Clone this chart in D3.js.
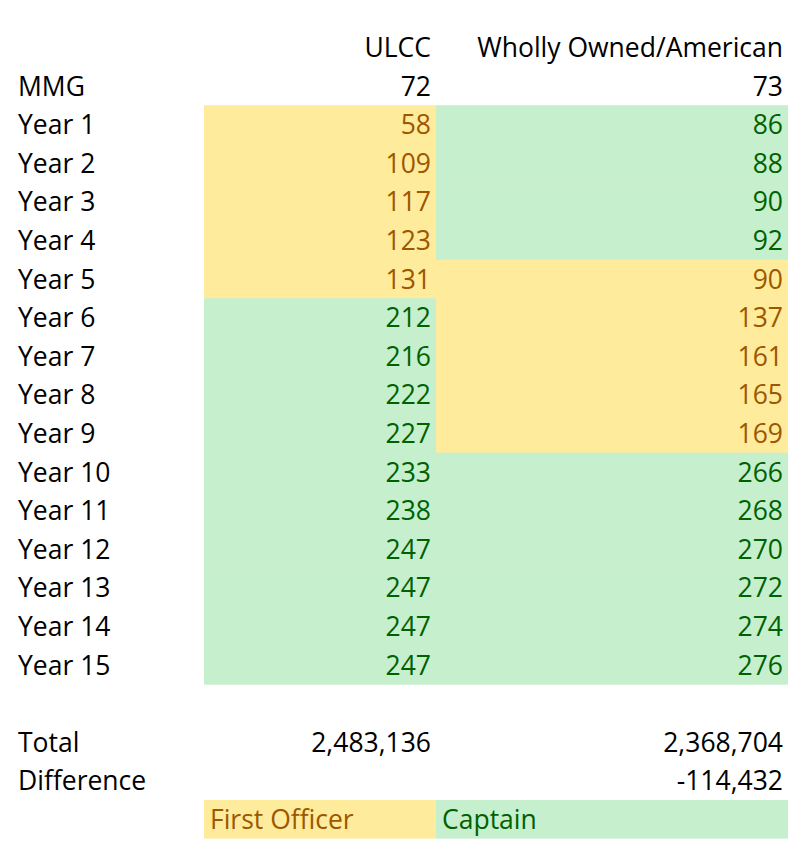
<!DOCTYPE html>
<html>
<head>
<meta charset="utf-8">
<script src="https://cdn.jsdelivr.net/npm/d3@7"></script>
<style>
  body { margin: 0; background: #fff; }
  text { font-family: "Open Sans", "Noto Sans", sans-serif; font-size: 26.5px; }
</style>
</head>
<body>
<div class="svg-frame" style="width:789px;height:842px"></div>
<script>
// values
const columns = ["ULCC", "Wholly Owned/American"]
const mmg = [72, 73]
const years = d3.range(1, 16).map(d => `Year ${d}`)
const ulcc = [58, 109, 117, 123, 131, 212, 216, 222, 227, 233, 238, 247, 247, 247, 247]
const ulccSeat = ["F", "F", "F", "F", "F", "C", "C", "C", "C", "C", "C", "C", "C", "C", "C"]
const wholly = [86, 88, 90, 92, 90, 137, 161, 165, 169, 266, 268, 270, 272, 274, 276]
const whollySeat = ["C", "C", "C", "C", "F", "F", "F", "F", "F", "C", "C", "C", "C", "C", "C"]
const totals = [2483136, 2368704]
const difference = -114432
const legend = [{ seat: "F", label: "First Officer" }, { seat: "C", label: "Captain" }]

function drawViz() {
  const frameClass = ".svg-frame"
  const frameWidth = parseFloat(d3.select(frameClass).style("width"))
  const frameHeight = parseFloat(d3.select(frameClass).style("height"))
  const svg = d3.select(frameClass)
    .append("svg")
    .attr("width", frameWidth)
    .attr("height", frameHeight)

  const fill = { F: "#FFEB9C", C: "#C6EFCE" }
  const ink = { F: "#9C5700", C: "#006100" }
  // excel shows a plain hyphen for negatives
  const fmt = d3.formatLocale({ decimal: ".", thousands: ",", grouping: [3], currency: ["", ""], minus: "-" }).format(",")

  // sheet grid: 21 rows, 3 columns
  const rowKeys = ["head", "mmg", ...years, "blank", "total", "diff", "legend"]
  const y = d3.scaleBand(rowKeys, [28, 28 + rowKeys.length * 38.6])
  const x = d3.scaleOrdinal(["label", "c0", "c1"], [18, 204, 436])
  const colRight = { c0: 436, c1: 788 }
  const pad = 5
  const baseline = r => y(r) + 29

  // rows of data cells
  const cells = []
  years.forEach((yr, i) => {
    cells.push({ row: yr, col: "c0", value: ulcc[i], seat: ulccSeat[i] })
    cells.push({ row: yr, col: "c1", value: wholly[i], seat: whollySeat[i] })
  })

  svg.selectAll("rect.cell")
    .data(cells)
    .join("rect")
      .attr("class", "cell")
      .attr("x", d => x(d.col))
      .attr("y", d => y(d.row))
      .attr("width", d => colRight[d.col] - x(d.col))
      .attr("height", y.bandwidth() + 0.5)
      .attr("fill", d => fill[d.seat])

  svg.selectAll("text.cell")
    .data(cells)
    .join("text")
      .attr("class", "cell")
      .attr("x", d => colRight[d.col] - pad)
      .attr("y", d => baseline(d.row))
      .attr("text-anchor", "end")
      .attr("fill", d => ink[d.seat])
      .text(d => d.value)

  // row labels
  const labels = [
    { row: "mmg", text: "MMG" },
    ...years.map(yr => ({ row: yr, text: yr })),
    { row: "total", text: "Total" },
    { row: "diff", text: "Difference" }
  ]
  svg.selectAll("text.label")
    .data(labels)
    .join("text")
      .attr("class", "label")
      .attr("x", x("label"))
      .attr("y", d => baseline(d.row))
      .attr("fill", "#000")
      .text(d => d.text)

  // plain black cells: header, MMG, totals, difference
  const plain = [
    { row: "head", col: "c0", text: columns[0] },
    { row: "head", col: "c1", text: columns[1] },
    { row: "mmg", col: "c0", text: mmg[0] },
    { row: "mmg", col: "c1", text: mmg[1] },
    { row: "total", col: "c0", text: fmt(totals[0]) },
    { row: "total", col: "c1", text: fmt(totals[1]) },
    { row: "diff", col: "c1", text: fmt(difference) }
  ]
  svg.selectAll("text.plain")
    .data(plain)
    .join("text")
      .attr("class", "plain")
      .attr("x", d => colRight[d.col] - pad)
      .attr("y", d => baseline(d.row))
      .attr("text-anchor", "end")
      .attr("fill", "#000")
      .text(d => d.text)

  // legend row
  const legendSel = svg.selectAll("g.legend")
    .data(legend)
    .join("g")
      .attr("class", "legend")
  legendSel.append("rect")
    .attr("x", (d, i) => x(["c0", "c1"][i]))
    .attr("y", y("legend"))
    .attr("width", (d, i) => colRight[["c0", "c1"][i]] - x(["c0", "c1"][i]))
    .attr("height", y.bandwidth())
    .attr("fill", d => fill[d.seat])
  legendSel.append("text")
    .attr("x", (d, i) => x(["c0", "c1"][i]) + 6)
    .attr("y", baseline("legend"))
    .attr("fill", d => ink[d.seat])
    .text(d => d.label)
}

drawViz()
</script>
</body>
</html>
